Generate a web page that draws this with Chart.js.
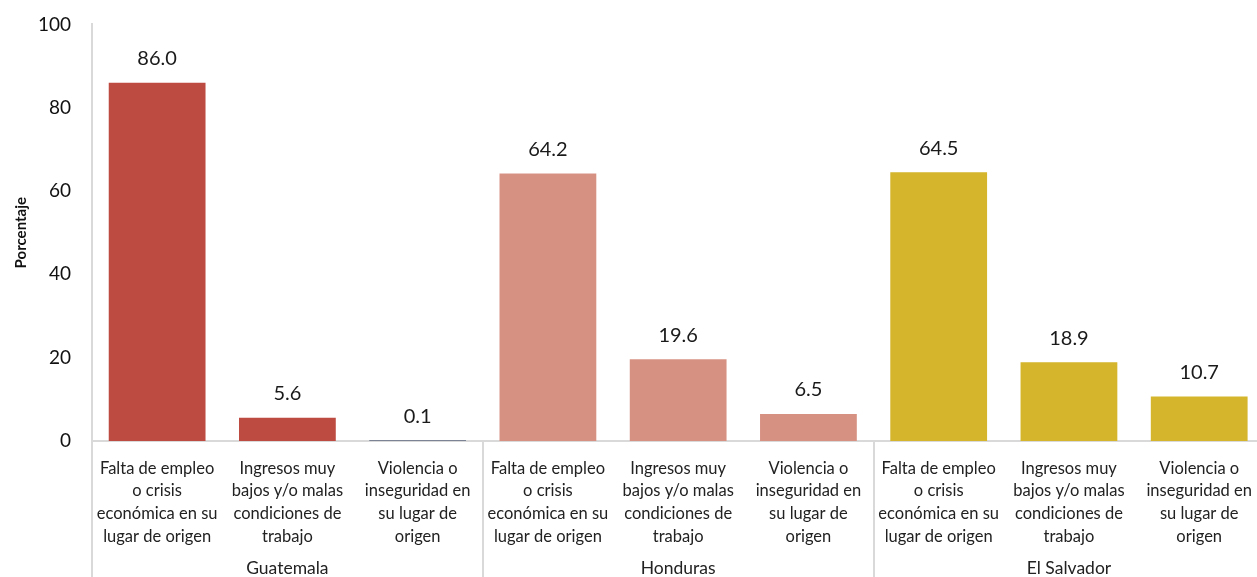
<!DOCTYPE html>
<html>
<head>
<meta charset="utf-8">
<script src="https://cdn.jsdelivr.net/npm/chart.js@4"></script>
<style>
  html, body { margin: 0; background: #fff; overflow: hidden; }
  #wrap { width: 1268px; height: 585px; position: absolute; left: 0; top: -8px; }
</style>
</head>
<body>
<div id="wrap"><canvas id="chart"></canvas></div>
<script>
const categories = [
  ['Falta de empleo', 'o crisis', 'económica en su', 'lugar de origen'],
  ['Ingresos muy', 'bajos y/o malas', 'condiciones de', 'trabajo'],
  ['Violencia o', 'inseguridad en', 'su lugar de', 'origen']
];
const countries = ['Guatemala', 'Honduras', 'El Salvador'];
const values = [86.0, 5.6, 0.1, 64.2, 19.6, 6.5, 64.5, 18.9, 10.7];
const countryColors = ['#be4b41', '#d79183', '#d4b52b'];
const yTicks = [0, 20, 40, 60, 80, 100];

const labels = [];
const colors = [];
countries.forEach((c, gi) => {
  categories.forEach(cat => {
    labels.push(cat);
    colors.push(countryColors[gi]);
  });
});
colors[2] = '#1f2f52'; // thin 0.1 bar shows dark in the original

const FONT = 'Lato, "Open Sans", sans-serif';

const extras = {
  id: 'extras',
  afterDatasetsDraw(chart) {
    const ctx = chart.ctx;
    const meta = chart.getDatasetMeta(0);
    ctx.save();
    ctx.fillStyle = '#1a1a1a';
    ctx.font = '20px ' + FONT;
    ctx.textAlign = 'center';
    ctx.textBaseline = 'middle';
    meta.data.forEach((bar, i) => {
      ctx.fillText(values[i].toFixed(1), bar.x, bar.y - 24);
    });
    ctx.restore();
  },
  afterDraw(chart) {
    const ctx = chart.ctx;
    const x = chart.scales.x;
    const bottom = chart.chartArea.bottom;
    ctx.save();
    ctx.strokeStyle = '#d9d9d9';
    ctx.lineWidth = 2;
    [-0.5, 2.5, 5.5].forEach(v => {
      const px = Math.round(x.getPixelForValue(v));
      ctx.beginPath();
      ctx.moveTo(px, bottom);
      ctx.lineTo(px, chart.height);
      ctx.stroke();
    });
    ctx.fillStyle = '#222';
    ctx.font = '17.5px ' + FONT;
    ctx.textAlign = 'center';
    ctx.textBaseline = 'middle';
    countries.forEach((c, gi) => {
      ctx.fillText(c, x.getPixelForValue(gi * 3 + 1), bottom + 127);
    });
    ctx.restore();
  }
};

new Chart(document.getElementById('chart'), {
  type: 'bar',
  data: {
    labels: labels,
    datasets: [{
      data: values,
      backgroundColor: colors,
      barPercentage: 0.743,
      categoryPercentage: 1.0
    }]
  },
  options: {
    responsive: true,
    maintainAspectRatio: false,
    animation: false,
    layout: { padding: { top: 6, right: 0, left: 0, bottom: 0 } },
    plugins: { legend: { display: false }, tooltip: { enabled: false } },
    scales: {
      x: {
        grid: { display: false, drawTicks: false },
        border: { display: true, color: '#d9d9d9', width: 2 },
        ticks: {
          color: '#222',
          font: { family: FONT, size: 16.5, lineHeight: 1.38 },
          maxRotation: 0,
          autoSkip: false,
          padding: 16
        },
        afterFit(scale) { scale.height = 136; }
      },
      y: {
        min: 0,
        max: 100,
        afterBuildTicks(scale) { scale.ticks = yTicks.map(v => ({ value: v })); },
        grid: { display: false, drawTicks: false },
        border: { display: true, color: '#d9d9d9', width: 2 },
        ticks: {
          color: '#111',
          font: { family: FONT, size: 19 },
          padding: 21
        },
        title: {
          display: true,
          text: 'Porcentaje',
          color: '#111',
          font: { family: FONT, size: 15, weight: 'bold' },
          padding: { top: 12, bottom: 0 }
        },
        afterFit(scale) { scale.width = 92; }
      }
    }
  },
  plugins: [extras]
});
</script>
</body>
</html>
